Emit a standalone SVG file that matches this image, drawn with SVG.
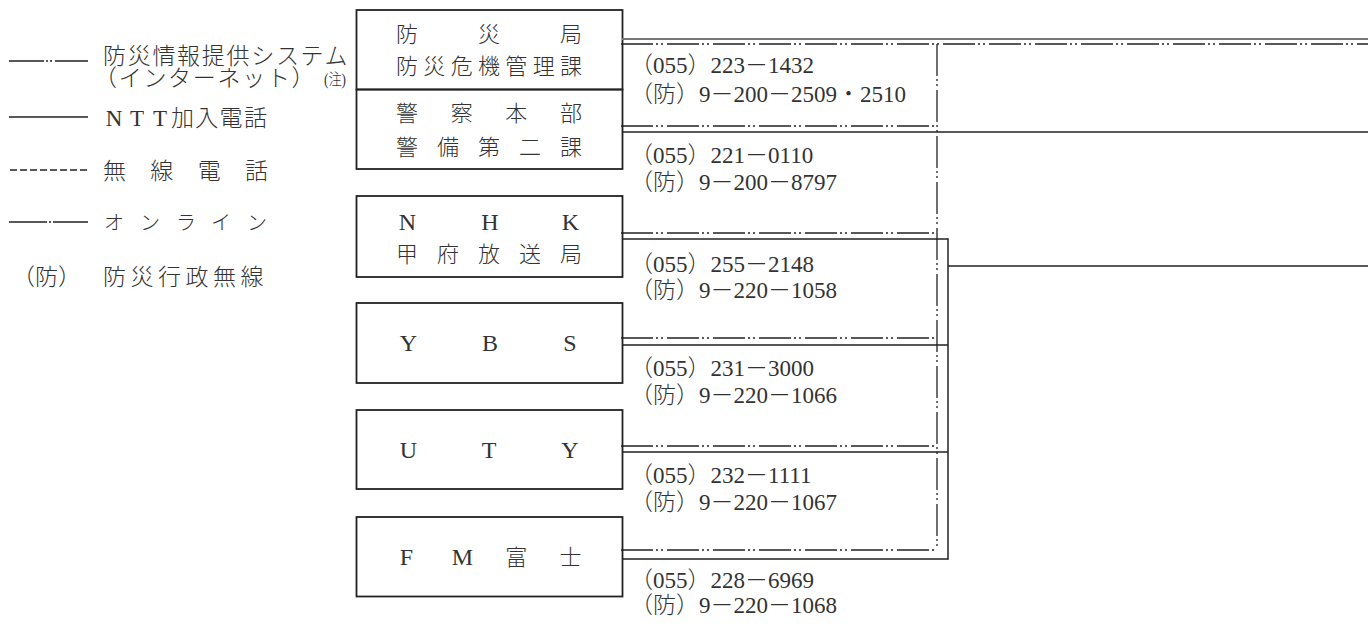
<svg xmlns="http://www.w3.org/2000/svg" width="1368" height="631" viewBox="0 0 1368 631">
<style>
.box{fill:none;stroke:#222;stroke-width:1.8}
.t{font-family:"Liberation Serif","Noto Sans CJK JP",serif;fill:#333;font-weight:300}
.inet{fill:none;stroke:#222;stroke-width:1.3;stroke-dasharray:32 3 2 3 2 4}
.ntt{fill:none;stroke:#222;stroke-width:1.5}
.radio{fill:none;stroke:#222;stroke-width:1.3;stroke-dasharray:7 3}
.online{fill:none;stroke:#222;stroke-width:1.3}
</style>
<rect width="1368" height="631" fill="#fff"/>

<g id="legend">
  <path class="ntt" d="M9 61 H44 M46 61 H48 M50 61 H52 M55 61 H88"/>
  <text class="t" font-size="23" x="103" y="63.7" letter-spacing="1.7">防災情報提供システム</text>
  <text class="t" font-size="23" x="94" y="86" letter-spacing="1.7">（インターネット）</text>
  <text class="t" font-size="16" x="324" y="85" textLength="22" lengthAdjust="spacingAndGlyphs">(注)</text>
  <path class="ntt" d="M9 117 H88"/>
  <text class="t" font-size="23" y="125.5"><tspan x="114" text-anchor="middle">N</tspan><tspan x="137" text-anchor="middle">T</tspan><tspan x="160" text-anchor="middle">T</tspan><tspan x="171" letter-spacing="1.3">加入電話</tspan></text>
  <path class="radio" d="M10 170 H88"/>
  <text class="t" font-size="23" y="178.7" x="103 150.3 197.7 245">無線電話</text>
  <path class="online" d="M9 222 H47 M49 222 H51 M53 222 H88"/>
  <text class="t" font-size="20" y="229.6" x="104 140 176 211 247">オンライン</text>
  <text class="t" font-size="23" x="12" y="284.7">（防）</text>
  <text class="t" font-size="23" x="103" y="284.7" letter-spacing="4.5">防災行政無線</text>
</g>

<g id="node-bousai">
  <rect class="box" x="356.5" y="10" width="266" height="79.5"/>
  <text class="t" font-size="22" y="41.7" text-anchor="middle" x="407 489 571">防災局</text>
  <text class="t" font-size="22" y="74" text-anchor="middle" x="407 434.3 461.7 489 516.3 543.7 571">防災危機管理課</text>
  <text class="t" font-size="23" x="630" y="73">（055）223－1432</text>
  <text class="t" font-size="23" x="630" y="101.5">（防）9－200－2509・2510</text>
</g>

<g id="node-keisatsu">
  <rect class="box" x="356.5" y="89.5" width="266" height="79.5"/>
  <text class="t" font-size="22" y="121.4" text-anchor="middle" x="407 461.7 516.3 571">警察本部</text>
  <text class="t" font-size="22" y="155" text-anchor="middle" x="407 448 489 530 571">警備第二課</text>
  <text class="t" font-size="23" x="630" y="163">（055）221－0110</text>
  <text class="t" font-size="23" x="630" y="190">（防）9－200－8797</text>
</g>

<g id="node-nhk">
  <rect class="box" x="356.5" y="196" width="266" height="81"/>
  <text class="t" font-size="24" y="229.6" text-anchor="middle" x="407.5 490 570.5">NHK</text>
  <text class="t" font-size="22" y="261.7" text-anchor="middle" x="407 448 489 530 571">甲府放送局</text>
  <text class="t" font-size="23" x="630" y="271.5">（055）255－2148</text>
  <text class="t" font-size="23" x="630" y="297.5">（防）9－220－1058</text>
</g>

<g id="node-ybs">
  <rect class="box" x="356.5" y="303" width="266" height="80"/>
  <text class="t" font-size="24" y="351.2" text-anchor="middle" x="408.5 490 570">YBS</text>
  <text class="t" font-size="23" x="630" y="376">（055）231－3000</text>
  <text class="t" font-size="23" x="630" y="403">（防）9－220－1066</text>
</g>

<g id="node-uty">
  <rect class="box" x="356.5" y="410" width="266" height="79"/>
  <text class="t" font-size="24" y="458" text-anchor="middle" x="408.5 489 570">UTY</text>
  <text class="t" font-size="23" x="630" y="483">（055）232－1111</text>
  <text class="t" font-size="23" x="630" y="510">（防）9－220－1067</text>
</g>

<g id="node-fm">
  <rect class="box" x="356.5" y="517" width="266" height="79.5"/>
  <text class="t" font-size="24" y="564.8" text-anchor="middle" x="406.5 462.5">FM</text>
  <text class="t" font-size="22" y="564.8" text-anchor="middle" x="516.3 570.5">富士</text>
  <text class="t" font-size="23" x="630" y="588">（055）228－6969</text>
  <text class="t" font-size="23" x="630" y="613">（防）9－220－1068</text>
</g>

<g id="connectors">
  <path d="M622 39 H1368" fill="none" stroke="#777" stroke-width="2"/>
  <path class="inet" d="M621 44 H1368"/>
  <path class="inet" d="M937 44 V550"/>
  <path class="inet" d="M621 126 H937 M621 233 H937 M621 338 H937 M621 446 H937 M621 550 H937"/>
  <path class="ntt" d="M622 132 H1368"/>
  <path class="ntt" d="M622 239 H948 M622 345 H948 M622 452 H948 M622 559 H948"/>
  <path class="ntt" stroke-width="2" d="M948 238.3 V559.7"/>
  <path class="ntt" d="M948 266 H1368"/>
</g>
</svg>
